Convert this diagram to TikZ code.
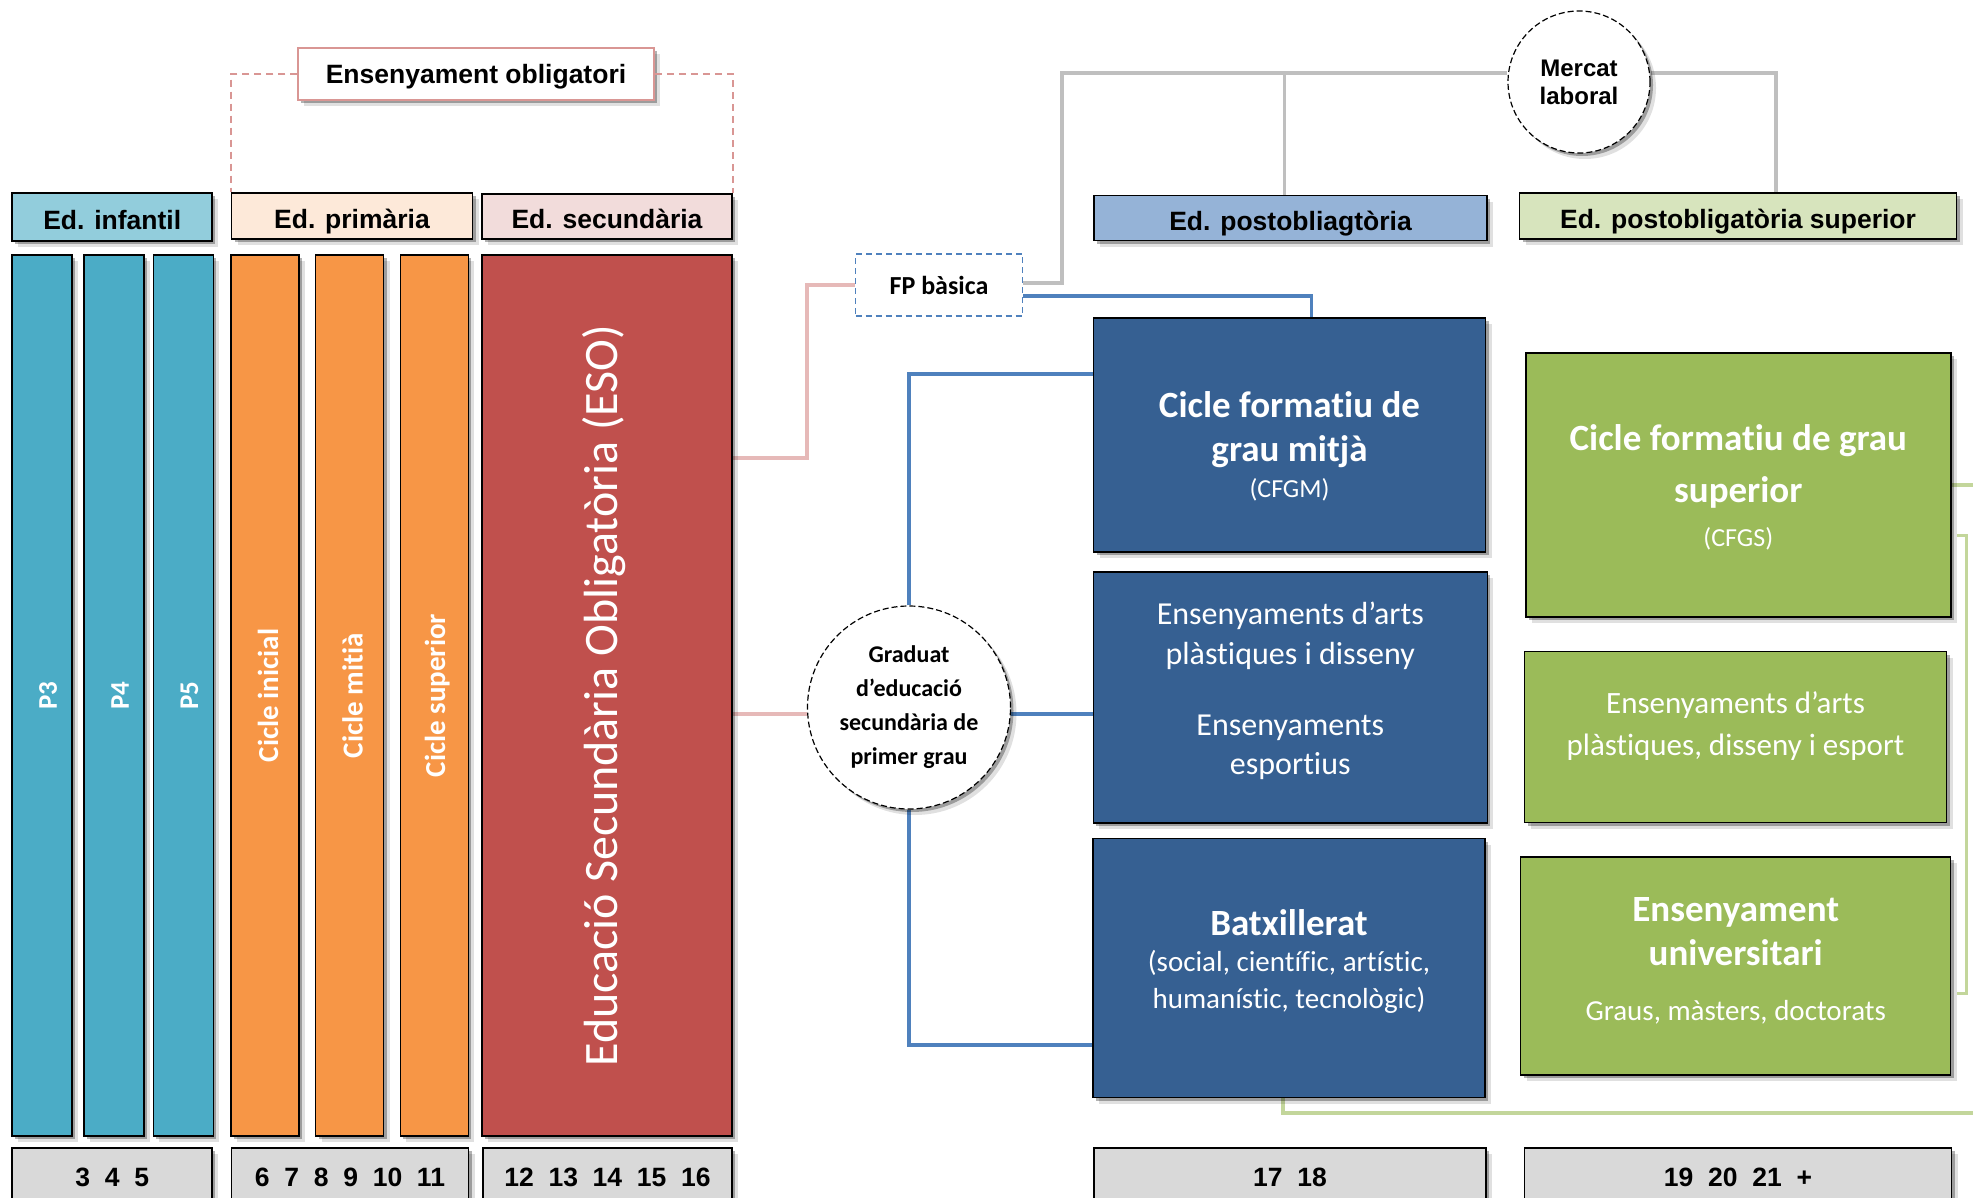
\documentclass[tikz,border=0pt]{standalone}
\usepackage{fontspec}
\setmainfont{Carlito}[Ligatures=NoCommon]
\newfontfamily\arialfont{Liberation Sans}
\usetikzlibrary{shadows,backgrounds}

\definecolor{infhdcol}{HTML}{92CDDC}
\definecolor{primhdcol}{HTML}{FDE9D9}
\definecolor{sechdcol}{HTML}{F2DCDB}
\definecolor{posthdcol}{HTML}{95B3D7}
\definecolor{suphdcol}{HTML}{D7E4BD}
\definecolor{infcol}{HTML}{4BACC6}
\definecolor{primcol}{HTML}{F79646}
\definecolor{esocol}{HTML}{C0504D}
\definecolor{postcol}{HTML}{366092}
\definecolor{supcol}{HTML}{9BBB59}
\definecolor{agecol}{HTML}{D9D9D9}
\definecolor{pinkln}{HTML}{E6B9B8}
\definecolor{obligln}{HTML}{D99694}
\definecolor{blueln}{HTML}{4F81BD}
\definecolor{grayln}{HTML}{BFBFBF}
\definecolor{greenln}{HTML}{C3D69B}

\newcommand{\titlefont}{\bfseries\fontsize{37}{44}\selectfont}
\newcommand{\subfont}{\fontsize{26}{30}\selectfont}

\tikzset{
  softshadow/.style={
    drop shadow={shadow xshift=3pt,shadow yshift=-3pt,opacity=.3,fill=black},
    drop shadow={shadow xshift=6pt,shadow yshift=-6pt,opacity=.12,fill=black}},
  hdr/.style={draw,line width=1.5pt,inner sep=0pt,softshadow,text height=24pt,text depth=0pt,
    font=\arialfont\bfseries\fontsize{26.5}{30}\selectfont},
  col/.style={draw,line width=1.5pt,inner sep=0pt,softshadow},
  coltext/.style={rotate=90,text=white,font=\bfseries\fontsize{29}{32}\selectfont},
  agebox/.style={hdr,fill=agecol,minimum height=58pt,text height=19pt},
  bigbox/.style={draw,line width=1.5pt,inner sep=0pt,softshadow},
  boxtext/.style={text=white,align=center,inner sep=0pt},
  ring/.style={circle,draw,dash pattern=on 6pt off 3pt,line width=1.2pt,fill=white,inner sep=0pt,align=center,softshadow},
  pinkline/.style={pinkln,line width=3.5pt},
  blueline/.style={blueln,line width=3.5pt},
  grayline/.style={grayln,line width=3.5pt},
  greenline/.style={greenln,line width=3.5pt},
}

\begin{document}
\begin{tikzpicture}[x=1pt,y=-1pt]
  \useasboundingbox (0,0) rectangle (1973,1197);
  \clip (0,0) rectangle (1973,1197);

  % headers
  \node[hdr,fill=infhdcol,minimum width=200pt,minimum height=48pt] (infhd) at (112.2,217) {Ed. infantil};
  \node[hdr,fill=primhdcol,minimum width=241pt,minimum height=46pt] (primhd) at (352,216) {Ed. primària};
  \node[hdr,fill=sechdcol,minimum width=250pt,minimum height=45pt] (sechd) at (607,216.5) {Ed. secundària};
  \node[hdr,fill=posthdcol,minimum width=393pt,minimum height=45pt] (posthd) at (1290.5,218) {Ed. postobliagtòria};
  \node[hdr,fill=suphdcol,minimum width=437pt,minimum height=46pt] (suphd) at (1738,216) {Ed. postobligatòria superior};
  \node[hdr,draw=obligln,fill=white,minimum width=356pt,minimum height=52pt,text height=19pt] (oblig) at (476,74) {Ensenyament obligatori};
  \draw[obligln,line width=1.5pt,dash pattern=on 7pt off 5pt] (oblig.west) -| (primhd.north west);
  \draw[obligln,line width=1.5pt,dash pattern=on 7pt off 5pt] (oblig.east) -| (sechd.north east);

  % columns
  \foreach \name/\x/\txt in {p3/42/P3, p4/114/P4, p5/183.4/P5} {
    \node[col,fill=infcol,minimum width=60pt,minimum height=881pt] (\name) at (\x,695.5) {};
    \node[coltext,font=\bfseries\fontsize{27}{30}\selectfont] (\name txt) at ([xshift=6pt]\name.center) {\txt};
  }
  \foreach \name/\x/\txt in {inicial/265/Cicle inicial, mitia/349.5/Cicle mitià, superior/434.3/Cicle superior} {
    \node[col,fill=primcol,minimum width=68pt,minimum height=881pt] (\name) at (\x,695.5) {};
    \node[coltext] (\name txt) at ([xshift=3pt]\name.center) {\txt};
  }
  \node[col,fill=esocol,minimum width=250pt,minimum height=881pt] (eso) at (607,695.5) {};
  \node[coltext,font=\fontsize{48}{52}\selectfont] (esotxt) at ([xshift=-2.5pt]eso.center) {Educació Secundària Obligatòria (ESO)};

  % ages
  \node[agebox,minimum width=200pt] (age1) at (112.2,1177) {3~~4~~5};
  \node[agebox,minimum width=237pt] (age2) at (350,1177) {6~~7~~8~~9~~10~~11};
  \node[agebox,minimum width=249pt] (age3) at (607.5,1177) {12~~13~~14~~15~~16};
  \node[agebox,minimum width=392pt] (age4) at (1290,1177) {17~~18};
  \node[agebox,minimum width=427pt] (age5) at (1738,1177) {19~~20~~21~~+};

  % post-obligatory boxes
  \node[bigbox,fill=postcol,minimum width=392pt,minimum height=234pt] (cfgm) at (1289.5,435) {};
  \node[boxtext,font=\fontsize{26}{44}\selectfont] (cfgmtxt) at ([yshift=-11pt]cfgm.center)
    {{\titlefont Cicle formatiu de}\\{\titlefont grau mitjà}\\[-8pt]{\subfont (CFGM)}};
  \node[bigbox,fill=postcol,minimum width=394pt,minimum height=251pt] (artsb) at (1290.3,697.5) {};
  \node[boxtext,font=\fontsize{32}{39.5}\selectfont] (artsbtxt) at ([yshift=6.5pt]artsb.center)
    {Ensenyaments d’arts\\plàstiques i disseny\\[31.5pt]Ensenyaments\\esportius};
  \node[bigbox,fill=postcol,minimum width=392pt,minimum height=259pt] (batx) at (1289,968) {};
  \node[boxtext,font=\fontsize{29}{36.5}\selectfont] (batxtxt) at ([yshift=7pt]batx.center)
    {{\titlefont Batxillerat}\\(social, científic, artístic,\\humanístic, tecnològic)};
  \node[bigbox,fill=supcol,minimum width=425pt,minimum height=264pt] (cfgs) at (1738.3,485) {};
  \node[boxtext,font=\fontsize{26}{52}\selectfont] (cfgstxt) at ([yshift=-2pt]cfgs.center)
    {{\titlefont Cicle formatiu de grau}\\{\titlefont superior}\\[-8pt]{\subfont (CFGS)}};
  \node[bigbox,fill=supcol,minimum width=422pt,minimum height=171pt] (artsg) at (1735.5,737) {};
  \node[boxtext,font=\fontsize{31}{41.5}\selectfont] (artsgtxt) at ([yshift=11pt]artsg.center)
    {Ensenyaments d’arts\\plàstiques, disseny i esport};
  \node[bigbox,fill=supcol,minimum width=430pt,minimum height=218pt] (univ) at (1735.7,966) {};
  \node[boxtext,font=\fontsize{29}{44}\selectfont] (univtxt) at ([yshift=5pt]univ.center)
    {{\titlefont Ensenyament}\\{\titlefont universitari}\\[11pt]Graus, màsters, doctorats};

  % FP basica and the two rings
  \node[draw=blueln,fill=white,line width=1.5pt,dash pattern=on 6pt off 4pt,minimum width=167pt,minimum height=62pt,
    font=\bfseries\fontsize{26}{30}\selectfont] (fp) at (939,285) {FP bàsica};
  \node[ring,minimum size=142pt,font=\arialfont\bfseries\fontsize{24}{28}\selectfont] (mercat) at (1579,82) {Mercat\\laboral};
  \node[ring,minimum size=203pt,font=\bfseries\fontsize{24}{34}\selectfont] (grad) at (909,707.5)
    {Graduat\\d’educació\\secundària de\\primer grau};

  % connectors
  \begin{scope}[on background layer]
  \coordinate (gtop) at (1062,73);
  \coordinate (pinkturn) at (807,285);
  \draw[grayline] ([yshift=2pt]fp.east) -| (gtop) -- (gtop -| mercat.west);
  \draw[grayline] ([xshift=-6pt]posthd.north) |- (gtop);
  \draw[grayline] (gtop -| mercat.east) -| ([xshift=38pt]suphd.north);
  \draw[pinkline] ([yshift=237.5pt]eso.east) -| (pinkturn) -- (fp.west);
  \draw[pinkline] ([yshift=-6.5pt]grad.west -| eso.east) -- ([yshift=-6.5pt]grad.west);
  \draw[blueline] ([yshift=-11pt]fp.east) -| ([xshift=22pt]cfgm.north);
  \draw[blueline] (grad.north) |- ([yshift=61pt]cfgm.west);
  \draw[blueline] ([yshift=-6.5pt]grad.east) -- ([yshift=-6.5pt]grad.east -| artsb.west);
  \draw[blueline] (grad.south) |- ([yshift=-77pt]batx.west);
  \coordinate (rightend) at (1980,485);
  \coordinate (bottomend) at (1980,1113);
  \draw[greenline] (cfgs.east) -- (rightend);
  \draw[greenline] ([xshift=-6pt]batx.south) |- (bottomend);
  \draw[greenline,line width=3pt] (1957,535) -- (1966,535) -- (1966,993) -- (1957,993);
  \end{scope}
\end{tikzpicture}
\end{document}
